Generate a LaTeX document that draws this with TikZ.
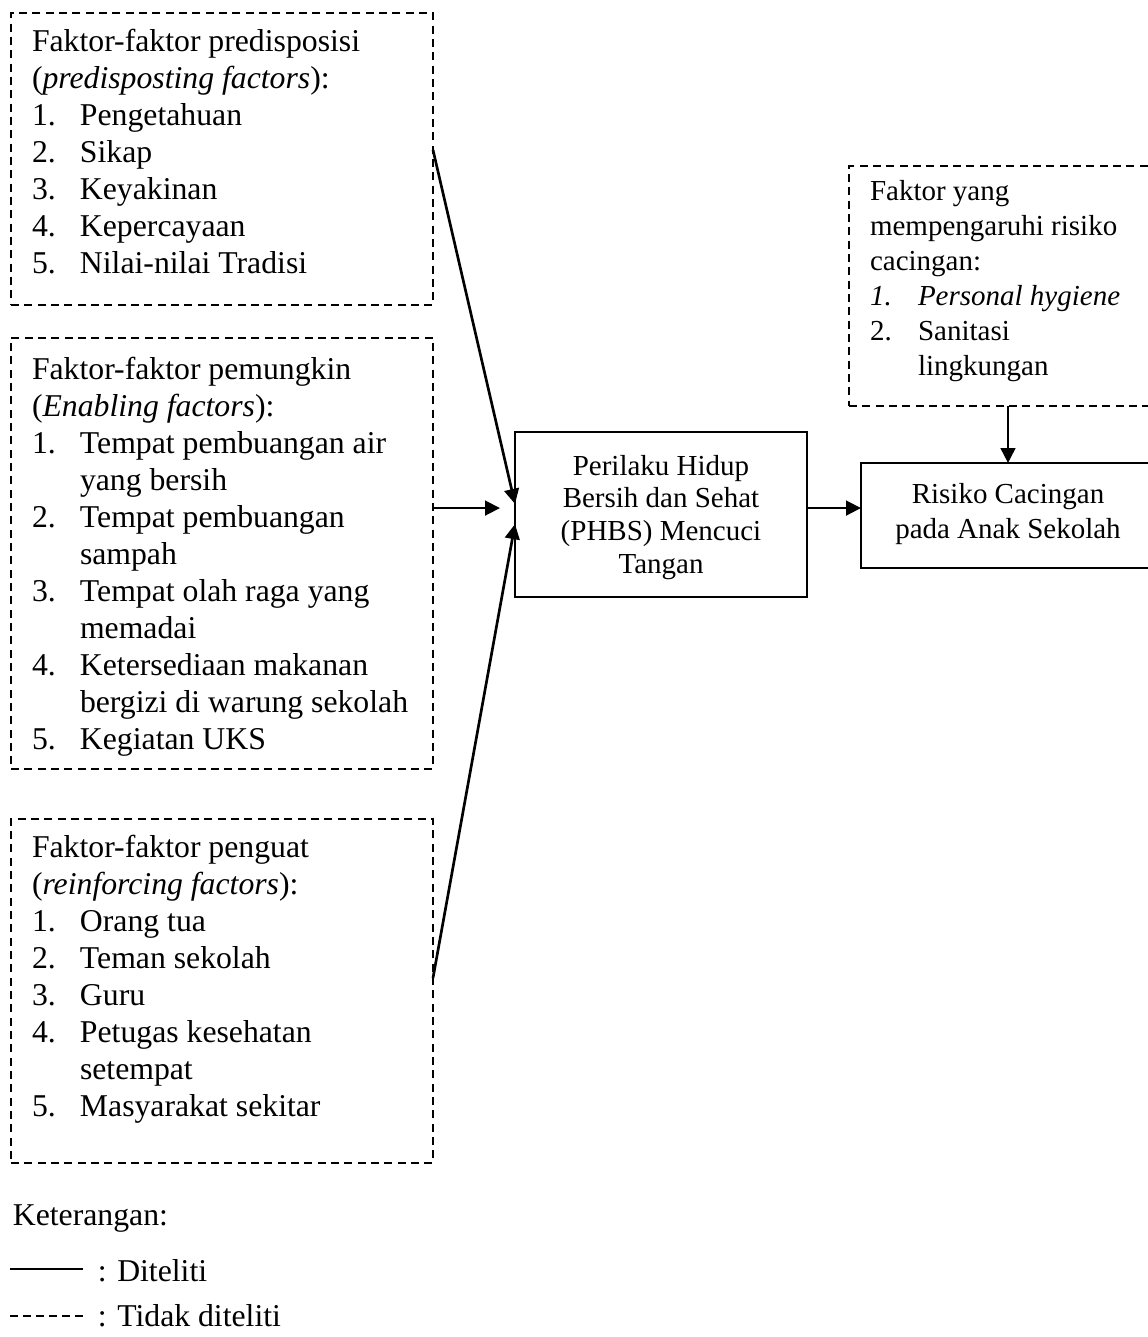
\documentclass[tikz,border=0pt]{standalone}
\usepackage{fontspec}
\setmainfont{Liberation Serif}
\usetikzlibrary{arrows.meta,calc}

\newcommand{\nitem}[2]{\makebox[36pt][l]{#1}#2}
\newcommand{\ncont}[1]{\hspace*{36pt}#1}

\tikzset{every picture/.style={line width=1.3pt}}
\tikzset{
  factorbox/.style={draw, dash pattern=on 6pt off 4pt, anchor=north west, outer sep=0pt,
    inner xsep=15.75pt, inner ysep=0pt, align=flush left},
  mainbox/.style={draw, anchor=north west, outer sep=0pt, inner sep=0pt, align=flush center},
  arr/.style={-{Triangle[length=11.25pt,width=11pt]}, line width=2pt},
  legtext/.style={anchor=base west, inner sep=0pt, font={\fontsize{23.8pt}{27.75pt}\selectfont}}
}

\begin{document}
\begin{tikzpicture}[x=0.75pt,y=0.75pt,yscale=-1,xscale=1]
  \useasboundingbox (0,0) rectangle (1147,1337);

  \node[factorbox, text width=285pt, text height=29.25pt, text depth=189.75pt,
    font={\fontsize{23.8pt}{27.75pt}\selectfont}] (pre) at (11,13)
    {Faktor-faktor predisposisi\\
     (\textit{predisposting factors}):\\
     \nitem{1.}{Pengetahuan}\\
     \nitem{2.}{Sikap}\\
     \nitem{3.}{Keyakinan}\\
     \nitem{4.}{Kepercayaan}\\
     \nitem{5.}{Nilai-nilai Tradisi}};

  \node[factorbox, text width=285pt, text height=30.75pt, text depth=292.5pt,
    font={\fontsize{23.8pt}{27.75pt}\selectfont}] (enab) at (11,338)
    {Faktor-faktor pemungkin\\
     (\textit{Enabling factors}):\\
     \nitem{1.}{Tempat pembuangan air}\\
     \ncont{yang bersih}\\
     \nitem{2.}{Tempat pembuangan}\\
     \ncont{sampah}\\
     \nitem{3.}{Tempat olah raga yang}\\
     \ncont{memadai}\\
     \nitem{4.}{Ketersediaan makanan}\\
     \ncont{bergizi di warung sekolah}\\
     \nitem{5.}{Kegiatan UKS}};

  \node[factorbox, text width=285pt, text height=28.5pt, text depth=229.5pt,
    font={\fontsize{23.8pt}{27.75pt}\selectfont}] (reinf) at (11,819)
    {Faktor-faktor penguat\\
     (\textit{reinforcing factors}):\\
     \nitem{1.}{Orang tua}\\
     \nitem{2.}{Teman sekolah}\\
     \nitem{3.}{Guru}\\
     \nitem{4.}{Petugas kesehatan}\\
     \ncont{setempat}\\
     \nitem{5.}{Masyarakat sekitar}};

  \node[factorbox, text width=205.5pt, text height=26.25pt, text depth=153.75pt,
    font={\fontsize{21.75pt}{26.25pt}\selectfont}] (fkt) at (849,166)
    {Faktor yang\\
     mempengaruhi risiko\\
     cacingan:\\
     \nitem{\textit{1.}}{\textit{Personal hygiene}}\\
     \nitem{2.}{Sanitasi}\\
     \ncont{lingkungan}};

  \node[mainbox, text width=219pt, text height=32.25pt, text depth=91.5pt,
    font={\fontsize{21.75pt}{24.5pt}\selectfont}] (phbs) at (515,432)
    {Perilaku Hidup\\ Bersih dan Sehat\\ (PHBS) Mencuci\\ Tangan};

  \node[mainbox, text width=220.5pt, text height=30pt, text depth=48.75pt,
    font={\fontsize{21.75pt}{26.25pt}\selectfont}] (risk) at (861,463)
    {Risiko Cacingan\\ pada Anak Sekolah};

  \coordinate (join) at ($(phbs.north west)!0.461!(phbs.south west)$);

  \draw[arr] ($(pre.north east)!0.469!(pre.south east)$) -- ($(phbs.north west)!0.436!(phbs.south west)$);
  \draw[arr] (enab.east |- join) -- ($(join)+(-15,0)$);
  \draw[arr] ($(reinf.north east)!0.462!(reinf.south east)$) -- ($(phbs.north west)!0.558!(phbs.south west)$);
  \draw[arr] (phbs.east |- join) -- (risk.west |- join);
  \draw[arr] (fkt.south -| risk.north) -- (risk.north);

  \node[legtext] (ket) at (12,1225) {Keterangan:};
  \node[legtext] (dit) at (97,1281) {: Diteliti};
  \node[legtext] (tdk) at (97,1326) {: Tidak diteliti};
  \draw[line width=1.5pt] ($(dit.base west)+(-87,-12)$) -- ++(73,0);
  \draw[line width=1.3pt, dash pattern=on 6pt off 3.75pt] ($(tdk.base west)+(-87,-10)$) -- ++(73,0);

\end{tikzpicture}
\end{document}
